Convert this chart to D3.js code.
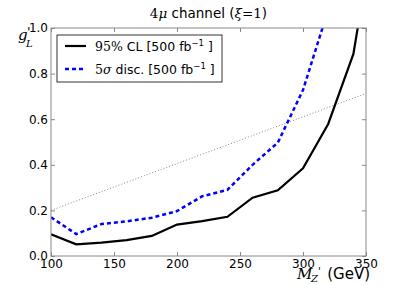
<!DOCTYPE html>
<html>
<head>
<meta charset="utf-8">
<script src="https://cdn.jsdelivr.net/npm/d3@7"></script>
<style>
  body { margin: 0; background: #fff; }
  text { font-family: "DejaVu Sans", sans-serif; fill: #000; }
  .math { font-family: "DejaVu Serif", "Liberation Serif", serif; font-style: italic; }
  .mathup { font-family: "DejaVu Serif", "Liberation Serif", serif; }
</style>
</head>
<body>
<svg id="chart" width="407" height="285"></svg>
<script>
// masses (GeV)
const masses = [100, 120, 140, 160, 180, 200, 220, 240, 260, 280, 300, 320, 340, 350];
// 95% CL limit on g'_L
const cl95 = [0.095, 0.051, 0.059, 0.070, 0.088, 0.138, 0.153, 0.172, 0.256, 0.288, 0.385, 0.579, 0.886, 1.22];
// 5 sigma discovery reach
const disc5 = [0.170, 0.096, 0.140, 0.152, 0.168, 0.197, 0.262, 0.290, 0.400, 0.497, 0.728, 1.08];
// reference line (dotted)
const refX = [100, 350];
const refY = [0.2, 0.713];

const xTicks = [100, 150, 200, 250, 300, 350];
const yTicks = [0.0, 0.2, 0.4, 0.6, 0.8, 1.0];

const svg = d3.select('#chart');
const margin = {left: 51, right: 41, top: 28, bottom: 29};
const W = 407 - margin.left - margin.right;
const H = 285 - margin.top - margin.bottom;

const x = d3.scaleLinear().domain([100, 350]).range([0, W]);
const y = d3.scaleLinear().domain([0, 1]).range([H, 0]);

const g = svg.append('g').attr('transform', `translate(${margin.left},${margin.top})`);

g.append('defs').append('clipPath').attr('id', 'clip')
  .append('rect').attr('width', W).attr('height', H);

const plot = g.append('g').attr('clip-path', 'url(#clip)');

const line = d3.line().x(d => x(d[0])).y(d => y(d[1]));

// dotted reference
plot.append('path')
  .attr('d', line(refX.map((v, i) => [v, refY[i]])))
  .attr('fill', 'none').attr('stroke', '#666').attr('stroke-width', 0.8)
  .attr('stroke-dasharray', '1,2');

plot.append('path')
  .attr('d', line(disc5.map((v, i) => [masses[i], v])))
  .attr('fill', 'none').attr('stroke', '#0000ff').attr('stroke-width', 2.5)
  .attr('stroke-dasharray', '4,3');

plot.append('path')
  .attr('d', line(cl95.map((v, i) => [masses[i], v])))
  .attr('fill', 'none').attr('stroke', '#000').attr('stroke-width', 2.2);

// axes with inward ticks on all sides
const fmt = d3.format('.1f');
const bottom = g.append('g').attr('transform', `translate(0,${H})`)
  .call(d3.axisBottom(x).tickValues(xTicks).tickSizeInner(-4).tickSizeOuter(0).tickPadding(5));
const left = g.append('g')
  .call(d3.axisLeft(y).tickValues(yTicks).tickFormat(fmt).tickSizeInner(-4).tickSizeOuter(0).tickPadding(3));
g.append('g').attr('transform', `translate(0,0)`)
  .call(d3.axisTop(x).tickValues(xTicks).tickSizeInner(-4).tickSizeOuter(0).tickFormat(''));
g.append('g').attr('transform', `translate(${W},0)`)
  .call(d3.axisRight(y).tickValues(yTicks).tickSizeInner(-4).tickSizeOuter(0).tickFormat(''));

g.selectAll('.domain').remove();
g.selectAll('.tick line').attr('stroke', '#888');
g.selectAll('.tick text').attr('font-size', 12).attr('font-family', '"DejaVu Sans", sans-serif').attr('fill', '#000');
bottom.selectAll('.tick text').attr('dy', '0.55em');

g.append('rect').attr('width', W).attr('height', H)
  .attr('fill', 'none').attr('stroke', '#888').attr('stroke-width', 1);

// legend
const lg = g.append('g').attr('transform', 'translate(6,7)');
lg.append('rect').attr('width', 165).attr('height', 47)
  .attr('fill', '#fff').attr('stroke', '#000').attr('stroke-width', 0.8);
lg.append('line').attr('x1', 8).attr('x2', 29).attr('y1', 11).attr('y2', 11)
  .attr('stroke', '#000').attr('stroke-width', 2.2);
lg.append('line').attr('x1', 8).attr('x2', 29).attr('y1', 34).attr('y2', 34)
  .attr('stroke', '#0000ff').attr('stroke-width', 2.5).attr('stroke-dasharray', '4,3');

const t1 = lg.append('text').attr('x', 38).attr('y', 16).attr('font-size', 12.5);
t1.append('tspan').attr('class', 'mathup').text('95%');
t1.append('tspan').text(' CL [500 fb');
t1.append('tspan').attr('font-size', 8.5).attr('dy', -5).text('−1');
t1.append('tspan').attr('dy', 5).text(' ]');

const t2 = lg.append('text').attr('x', 38).attr('y', 39).attr('font-size', 12.5);
t2.append('tspan').attr('class', 'mathup').text('5');
t2.append('tspan').attr('class', 'math').text('σ');
t2.append('tspan').text(' disc. [500 fb');
t2.append('tspan').attr('font-size', 8.5).attr('dy', -5).text('−1');
t2.append('tspan').attr('dy', 5).text(' ]');

// title
const title = svg.append('text').attr('x', margin.left + W / 2).attr('y', 18)
  .attr('text-anchor', 'middle').attr('font-size', 13.5);
title.append('tspan').attr('class', 'mathup').text('4');
title.append('tspan').attr('class', 'math').text('μ');
title.append('tspan').text(' channel (');
title.append('tspan').attr('class', 'math').text('ξ');
title.append('tspan').attr('class', 'mathup').text('=1');
title.append('tspan').text(')');

// y label: g'_L
svg.append('text').attr('class', 'math').attr('x', 18).attr('y', 40).attr('font-size', 15).text('g');
svg.append('text').attr('x', 27).attr('y', 36).attr('font-size', 13).text("'");
svg.append('text').attr('class', 'math').attr('x', 26).attr('y', 47).attr('font-size', 10).text('L');

// x label: M_Z' (GeV)
svg.append('text').attr('class', 'math').attr('x', 297).attr('y', 279).attr('font-size', 15).text('M');
svg.append('text').attr('class', 'math').attr('x', 311).attr('y', 282).attr('font-size', 10).text('Z');
svg.append('text').attr('x', 318).attr('y', 275).attr('font-size', 10).text("'");
svg.append('text').attr('x', 370).attr('y', 279).attr('text-anchor', 'end').attr('font-size', 15).text('(GeV)');
</script>
</body>
</html>
